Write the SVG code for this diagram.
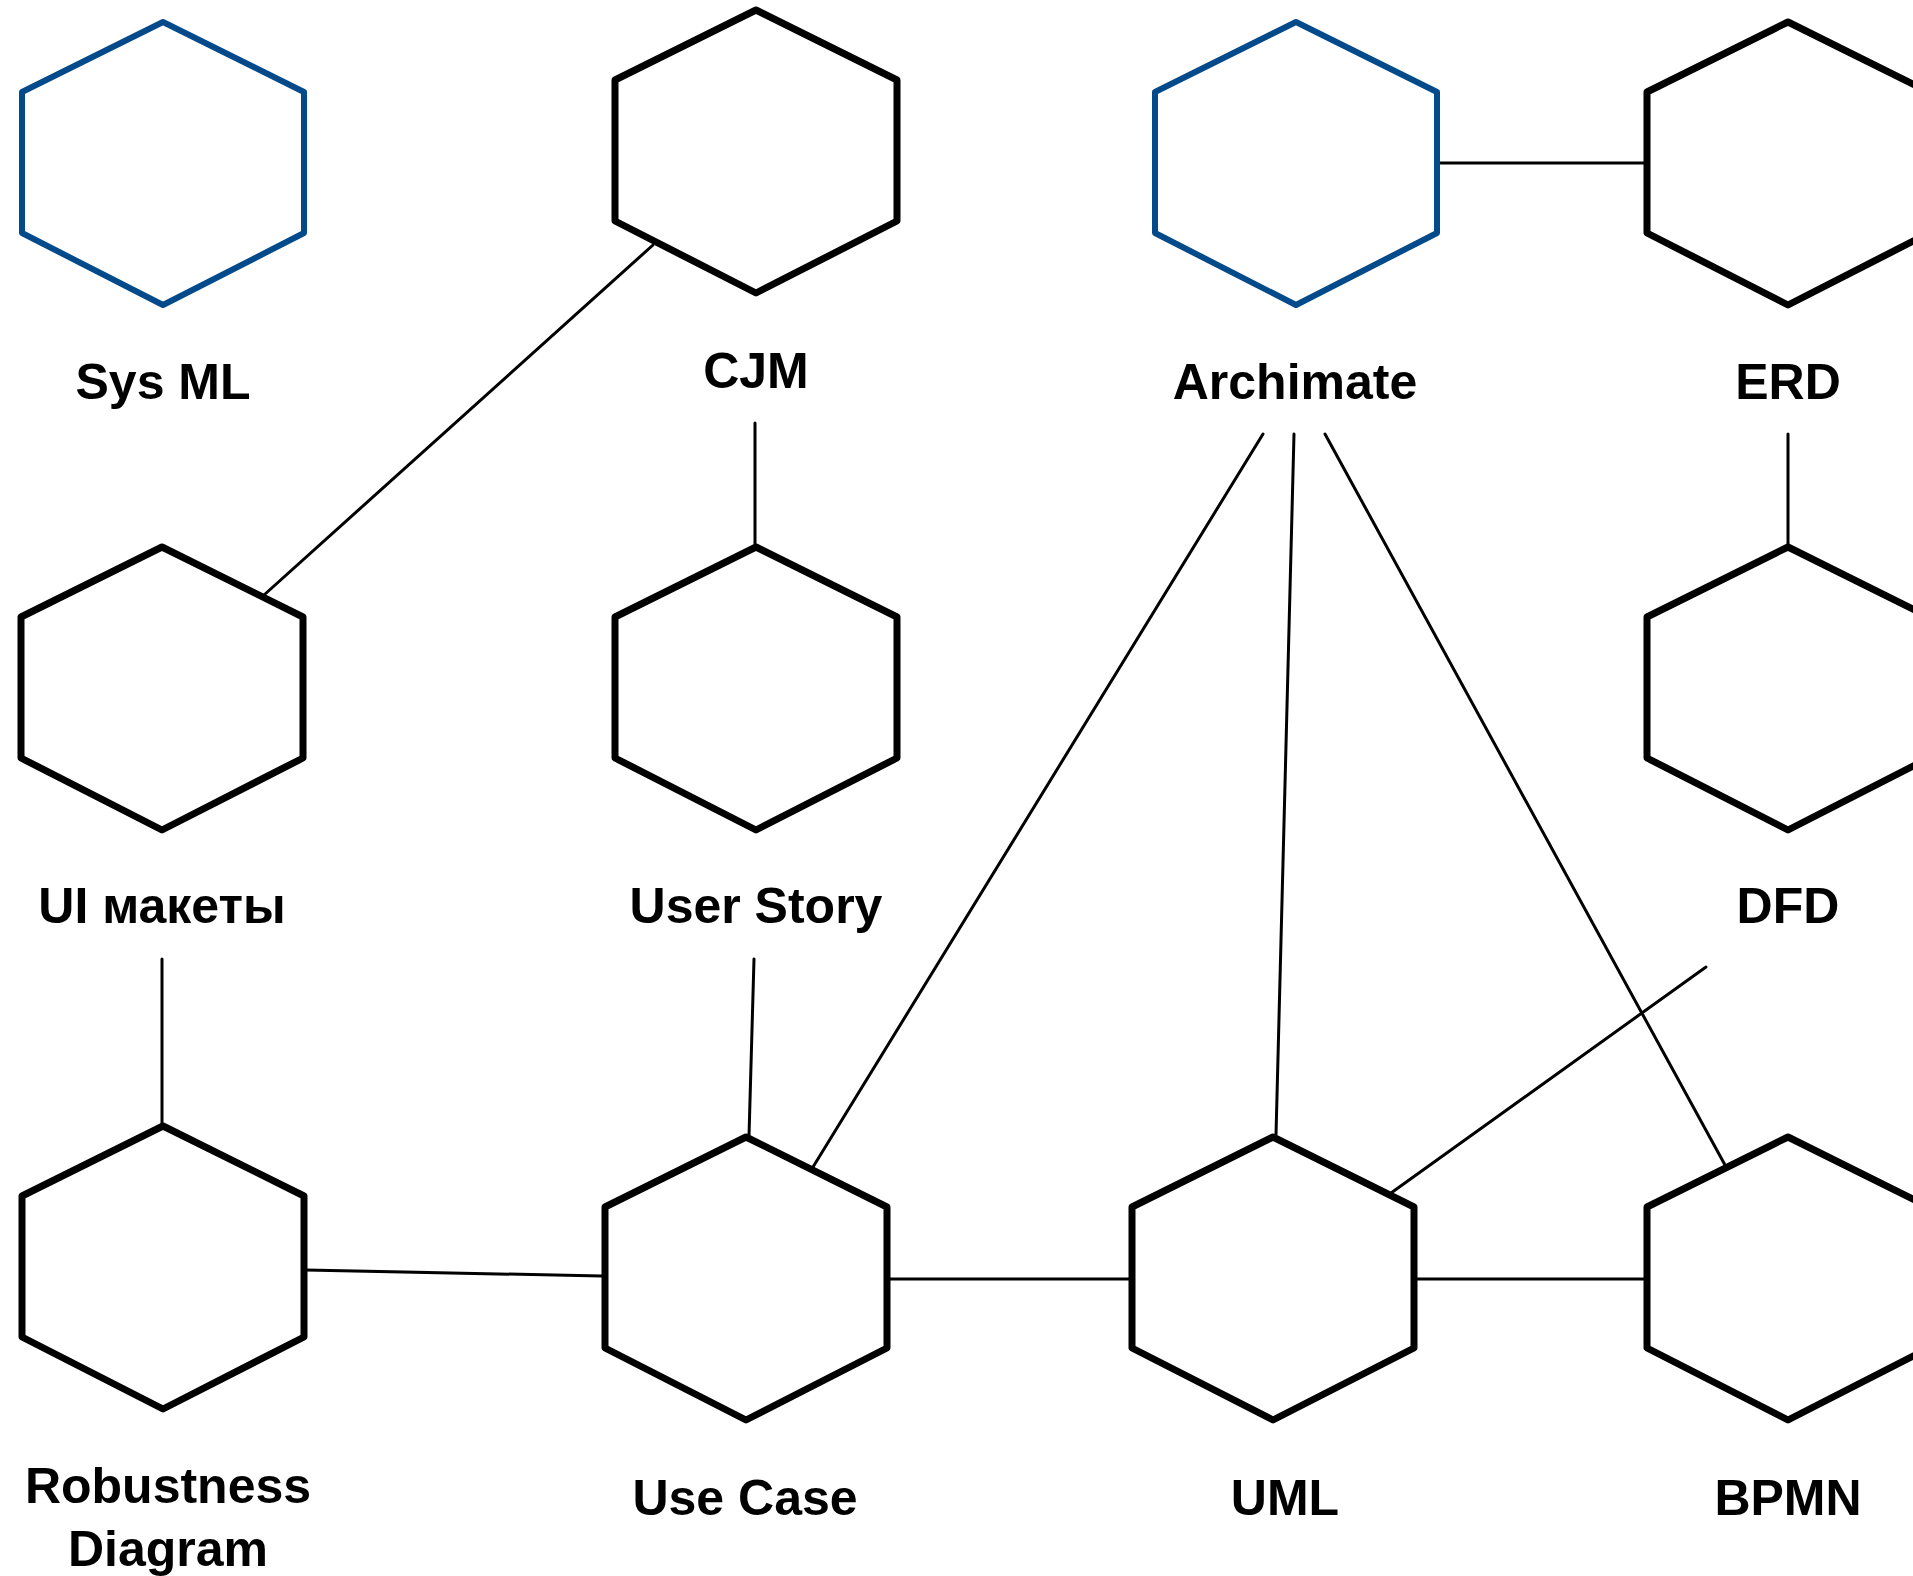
<svg xmlns="http://www.w3.org/2000/svg" width="1913" height="1576" viewBox="0 0 1913 1576">
  <style>
    .hex { fill: #ffffff; stroke: #000000; stroke-width: 7; stroke-linejoin: round; }
    .hex.blue { stroke: #034a8a; stroke-width: 6; }
    .edge { stroke: #000000; stroke-width: 3; stroke-linecap: round; fill: none; }
    .label { font-family: "Liberation Sans", Arial, sans-serif; font-weight: bold; font-size: 50px; text-anchor: middle; fill: #000000; }
  </style>
  <defs>
    <!-- regular hexagon, apex at origin, 282 wide, 283 tall -->
    <polygon id="hexShape" points="0,0 141,70 141,211 0,283 -141,211 -141,70"/>
  </defs>
  <rect width="1913" height="1576" fill="#ffffff"/>

  <g id="connectors">
    <line class="edge" x1="653" y1="245" x2="264" y2="595"/>
    <line class="edge" x1="755" y1="423" x2="755" y2="545"/>
    <line class="edge" x1="1437" y1="163" x2="1647" y2="163"/>
    <line class="edge" x1="1788" y1="434" x2="1788" y2="545"/>
    <line class="edge" x1="1263" y1="434" x2="813" y2="1167"/>
    <line class="edge" x1="1294" y1="434" x2="1276" y2="1135"/>
    <line class="edge" x1="1325" y1="434" x2="1725" y2="1165"/>
    <line class="edge" x1="1706" y1="967" x2="1391" y2="1193"/>
    <line class="edge" x1="162" y1="959" x2="162" y2="1124"/>
    <line class="edge" x1="754" y1="959" x2="749" y2="1136"/>
    <line class="edge" x1="306" y1="1270" x2="602" y2="1276"/>
    <line class="edge" x1="887" y1="1279" x2="1132" y2="1279"/>
    <line class="edge" x1="1413" y1="1279" x2="1647" y2="1279"/>
  </g>

  <g id="node-sysml">
    <use href="#hexShape" class="hex blue" x="163" y="22"/>
    <text class="label" x="163" y="399">Sys ML</text>
  </g>
  <g id="node-cjm">
    <use href="#hexShape" class="hex" x="756" y="10"/>
    <text class="label" x="756" y="388">CJM</text>
  </g>
  <g id="node-archimate">
    <use href="#hexShape" class="hex blue" x="1296" y="22"/>
    <text class="label" x="1295" y="399">Archimate</text>
  </g>
  <g id="node-erd">
    <use href="#hexShape" class="hex" x="1788" y="22"/>
    <text class="label" x="1788" y="399">ERD</text>
  </g>
  <g id="node-ui">
    <use href="#hexShape" class="hex" x="162" y="547"/>
    <text class="label" x="162" y="923">UI макеты</text>
  </g>
  <g id="node-userstory">
    <use href="#hexShape" class="hex" x="756" y="547"/>
    <text class="label" x="756" y="923">User Story</text>
  </g>
  <g id="node-dfd">
    <use href="#hexShape" class="hex" x="1788" y="547"/>
    <text class="label" x="1788" y="923">DFD</text>
  </g>
  <g id="node-robustness">
    <use href="#hexShape" class="hex" x="163" y="1126"/>
    <text class="label" x="168" y="1503">Robustness</text>
    <text class="label" x="168" y="1566">Diagram</text>
  </g>
  <g id="node-usecase">
    <use href="#hexShape" class="hex" x="746" y="1137"/>
    <text class="label" x="745" y="1515">Use Case</text>
  </g>
  <g id="node-uml">
    <use href="#hexShape" class="hex" x="1273" y="1137"/>
    <text class="label" x="1285" y="1515">UML</text>
  </g>
  <g id="node-bpmn">
    <use href="#hexShape" class="hex" x="1788" y="1137"/>
    <text class="label" x="1788" y="1515">BPMN</text>
  </g>
</svg>
